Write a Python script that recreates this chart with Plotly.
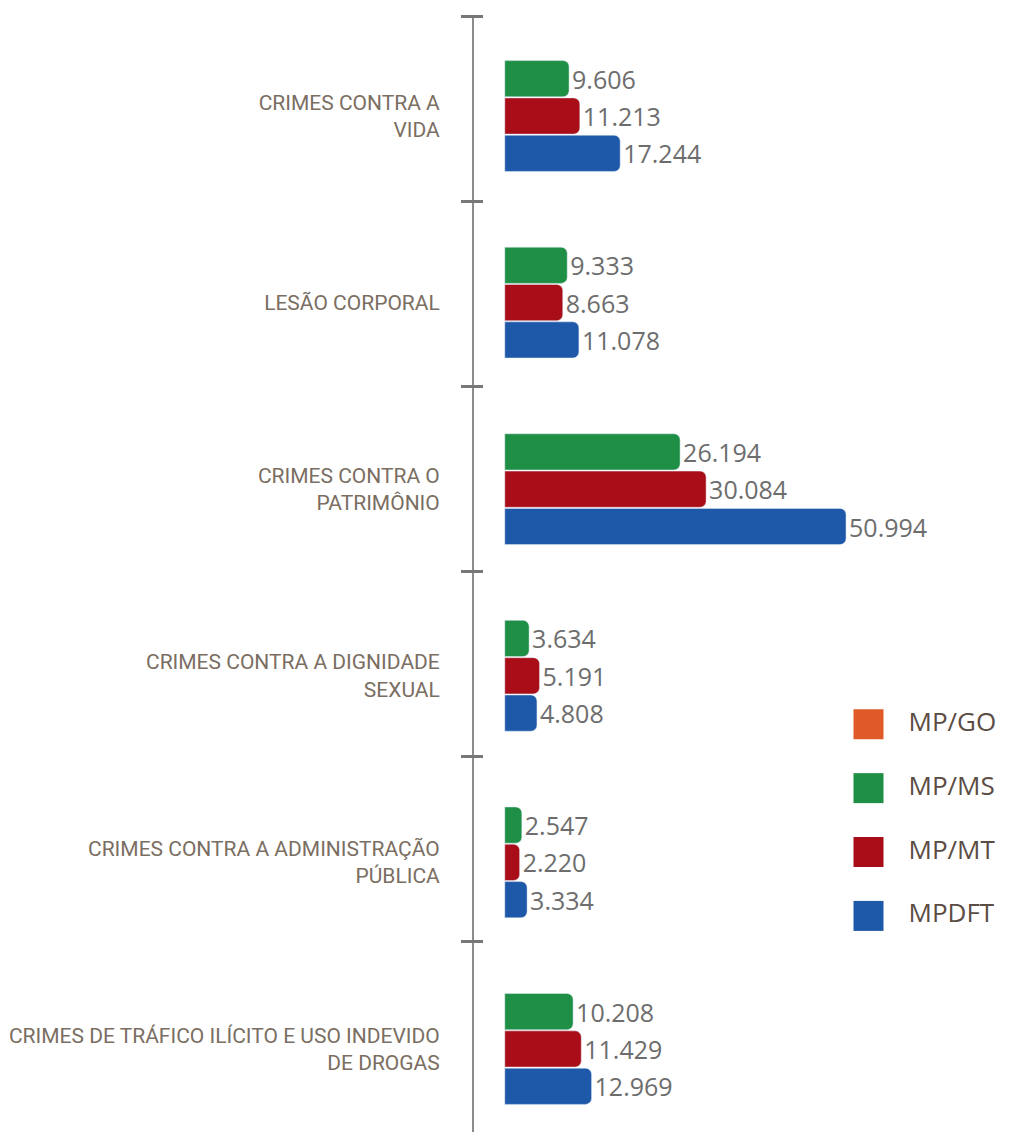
import plotly.graph_objects as go

# categories top -> bottom
categories = [
    "CRIMES CONTRA A<br>VIDA",
    "LESÃO CORPORAL",
    "CRIMES CONTRA O<br>PATRIMÔNIO",
    "CRIMES CONTRA A DIGNIDADE<br>SEXUAL",
    "CRIMES CONTRA A ADMINISTRAÇÃO<br>PÚBLICA",
    "CRIMES DE TRÁFICO ILÍCITO E USO INDEVIDO<br>DE DROGAS",
]
mp_ms = [9606, 9333, 26194, 3634, 2547, 10208]
mp_mt = [11213, 8663, 30084, 5191, 2220, 11429]
mpdft = [17244, 11078, 50994, 4808, 3334, 12969]

legend_names = ["MP/GO", "MP/MS", "MP/MT", "MPDFT"]
legend_colors = ["#e05a28", "#1f8f45", "#a80d18", "#1e58a8"]

series = [("MP/MS", mp_ms, "#1f8f45"), ("MP/MT", mp_mt, "#a80d18"), ("MPDFT", mpdft, "#1e58a8")]

fig = go.Figure()
for name, vals, color in series:
    fig.add_trace(go.Bar(
        x=vals, y=categories, orientation="h", name=name, showlegend=False,
        marker=dict(color=color, cornerradius=6),
        texttemplate="%{x:,.0f}", textposition="outside", constraintext="none",
        textfont=dict(size=25, color="#6d6d6d", family="Open Sans, sans-serif"),
        cliponaxis=False,
    ))

# empty trace so the boundary-tick axis gets drawn
fig.add_trace(go.Scatter(x=[], y=[], yaxis="y2", showlegend=False, hoverinfo="skip"))

# hand-made legend with big squares
fig.add_trace(go.Scatter(
    x=[0] * len(legend_names), y=legend_names, xaxis="x3", yaxis="y3",
    mode="markers+text", text=["   " + n for n in legend_names],
    textposition="middle right",
    textfont=dict(size=26, color="#5b4c44", family="Open Sans, sans-serif"),
    marker=dict(symbol="square", size=30, color=legend_colors),
    showlegend=False, hoverinfo="skip", cliponaxis=False,
))

# page body adds 8px offset, so margins are trimmed by 8
bar_rng = [5.445, -0.536]
tick_rng = [5.527, -0.505]
boundaries = [i - 0.5 for i in range(len(categories))]
fig.update_layout(
    width=1002, height=1132,
    margin=dict(l=466, r=10, t=8, b=8),
    paper_bgcolor="white", plot_bgcolor="white",
    separators=",.",
    barmode="group", bargap=0.4, bargroupgap=0.03,
    xaxis=dict(range=[-4600, 74000], visible=False),
    yaxis=dict(
        type="category", categoryorder="array", categoryarray=categories,
        range=bar_rng, ticks="", showline=True, linecolor="#8c8c8c",
        linewidth=2, showgrid=False, ticklabelstandoff=28, automargin=False,
        tickfont=dict(size=21, color="#7a6e62", family="Roboto, sans-serif"),
    ),
    # boundary ticks crossing the axis line
    yaxis2=dict(
        overlaying="y", anchor="free", position=0.017, side="left",
        range=tick_rng, tickmode="array", tickvals=boundaries,
        ticks="outside", ticklen=22, tickwidth=3, tickcolor="#777777",
        showticklabels=False, showgrid=False, zeroline=False, showline=False,
        automargin=False,
    ),
    xaxis3=dict(domain=[0.7, 1.0], range=[-1, 5], anchor="y3", visible=False),
    yaxis3=dict(domain=[0.165, 0.394], range=[3.5, -0.5], anchor="x3",
                type="category", visible=False),
)

fig.write_html("out.html")
